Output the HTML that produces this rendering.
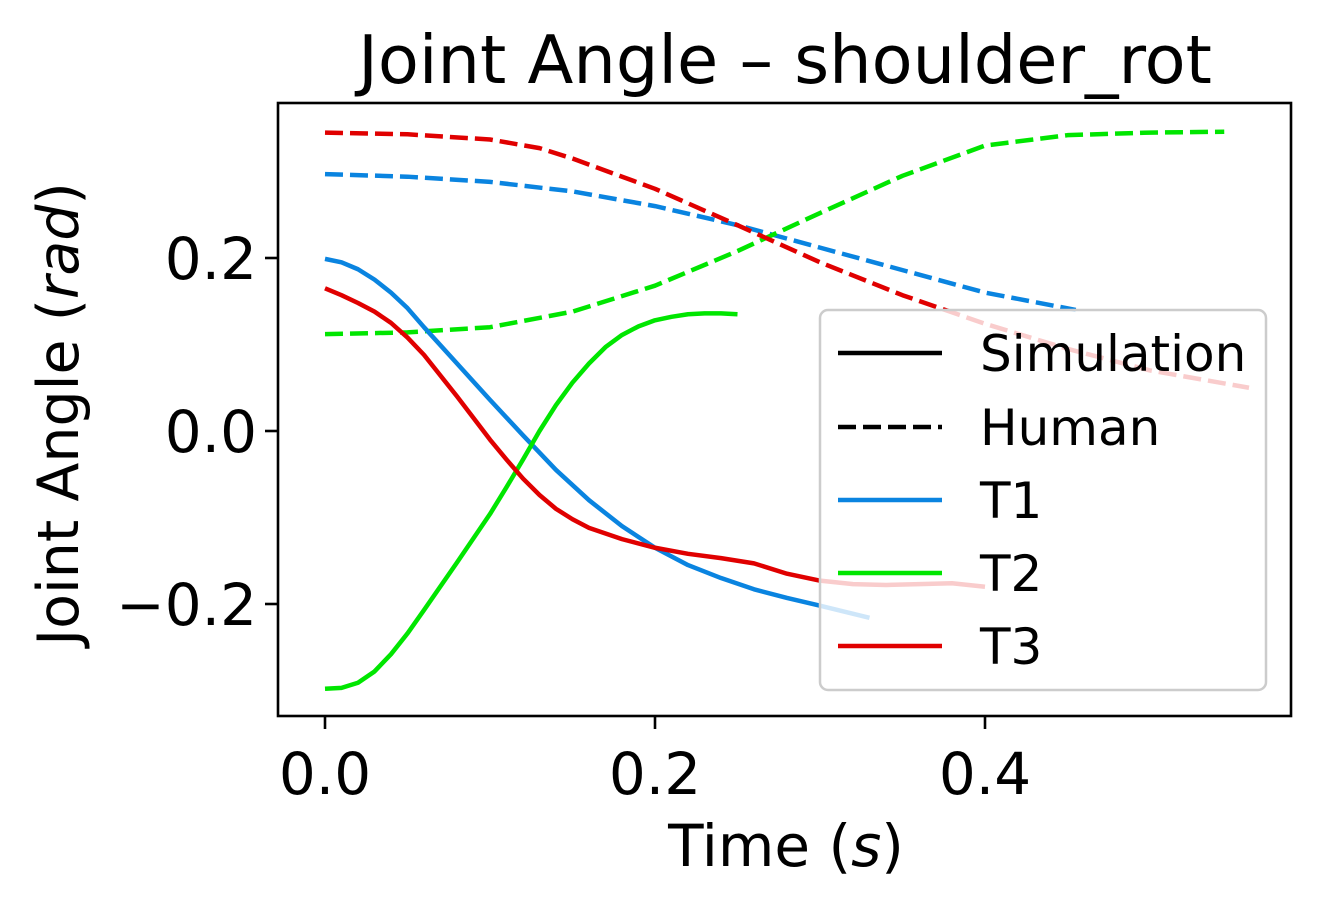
<!DOCTYPE html>
<html><head><meta charset="utf-8"><style>
body{margin:0;background:#fff;}
svg{display:block;font-family:"DejaVu Sans","Liberation Sans",sans-serif;}
</style></head><body>
<svg id="chart" width="1320" height="906" viewBox="0 0 1320 906">
<text x="785" y="83" font-size="67" text-anchor="middle">Joint Angle – shoulder_rot</text>
<g id="series"></g>
<g id="axes"></g>
<rect x="278" y="103" width="1013" height="613" fill="none" stroke="#000" stroke-width="2.6"/>
<text x="786" y="866" font-size="58" text-anchor="middle">Time (<tspan font-style="italic">s</tspan>)</text>
<text transform="translate(78,414) rotate(-90)" font-size="57" text-anchor="middle">Joint Angle (<tspan font-style="italic">rad</tspan>)</text>
<g>
<rect x="820" y="310" width="446" height="380" rx="8" fill="#fff" fill-opacity="0.8" stroke="#ccc" stroke-width="2.5"/>
<g><line x1="838" y1="353" x2="942" y2="353" stroke="#000" stroke-width="4.5"/><text x="980" y="371" font-size="50">Simulation</text></g>
<g><line x1="838" y1="427" x2="942" y2="427" stroke="#000" stroke-width="4.5" stroke-dasharray="18,7"/><text x="980" y="445" font-size="50">Human</text></g>
<g><line x1="838" y1="500" x2="942" y2="500" stroke="#0a84e0" stroke-width="4.5"/><text x="980" y="518" font-size="50">T1</text></g>
<g><line x1="838" y1="573" x2="942" y2="573" stroke="#00e600" stroke-width="4.5"/><text x="980" y="591" font-size="50">T2</text></g>
<g><line x1="838" y1="646" x2="942" y2="646" stroke="#e00000" stroke-width="4.5"/><text x="980" y="664" font-size="50">T3</text></g>
</g>
</svg>
<script>
const xTicks=[0.0,0.2,0.4];
const xTickLabels=["0.0","0.2","0.4"];
const yTicks=[-0.2,0.0,0.2];
const yTickLabels=["\u22120.2","0.0","0.2"];
const t1SimT=[0,0.01,0.02,0.03,0.04,0.05,0.06,0.08,0.1,0.12,0.14,0.16,0.18,0.2,0.22,0.24,0.26,0.28,0.3,0.33];
const t1SimV=[0.199,0.195,0.187,0.175,0.16,0.142,0.12,0.078,0.036,-0.005,-0.045,-0.08,-0.11,-0.135,-0.155,-0.17,-0.183,-0.193,-0.202,-0.216];
const t2SimT=[0,0.01,0.02,0.03,0.04,0.05,0.06,0.08,0.1,0.11,0.12,0.13,0.14,0.15,0.16,0.17,0.18,0.19,0.2,0.21,0.22,0.23,0.24,0.25];
const t2SimV=[-0.298,-0.297,-0.291,-0.278,-0.258,-0.234,-0.207,-0.152,-0.096,-0.065,-0.033,0,0.03,0.056,0.078,0.097,0.111,0.121,0.128,0.132,0.135,0.136,0.136,0.135];
const t3SimT=[0,0.01,0.02,0.03,0.04,0.05,0.06,0.07,0.08,0.09,0.1,0.11,0.12,0.13,0.14,0.15,0.16,0.18,0.2,0.22,0.24,0.26,0.28,0.3,0.32,0.34,0.36,0.38,0.4];
const t3SimV=[0.165,0.157,0.148,0.138,0.125,0.108,0.088,0.064,0.04,0.015,-0.01,-0.033,-0.055,-0.074,-0.09,-0.102,-0.112,-0.125,-0.135,-0.142,-0.147,-0.153,-0.165,-0.173,-0.177,-0.178,-0.177,-0.176,-0.18];
const t1HumT=[0,0.05,0.1,0.15,0.2,0.25,0.3,0.35,0.4,0.455];
const t1HumV=[0.297,0.294,0.288,0.277,0.26,0.238,0.212,0.186,0.16,0.14];
const t2HumT=[0,0.05,0.1,0.15,0.2,0.25,0.3,0.35,0.4,0.45,0.5,0.545];
const t2HumV=[0.112,0.114,0.12,0.138,0.168,0.208,0.252,0.295,0.33,0.342,0.345,0.346];
const t3HumT=[0,0.05,0.1,0.13,0.15,0.2,0.25,0.3,0.35,0.4,0.45,0.5,0.56];
const t3HumV=[0.345,0.343,0.337,0.327,0.315,0.28,0.238,0.195,0.157,0.124,0.095,0.07,0.05];

const NS="http://www.w3.org/2000/svg";
function xs(t){return 325+t*1650;}
function ys(v){return 431-v*865;}
const sg=document.getElementById('series');
const ag=document.getElementById('axes');
function line(T,V,color,dashed,name){
  const p=document.createElementNS(NS,'polyline');
  p.setAttribute('points',T.map((t,i)=>xs(t)+','+ys(V[i])).join(' '));
  p.setAttribute('fill','none');p.setAttribute('stroke',color);p.setAttribute('stroke-width','4.5');
  p.setAttribute('stroke-linejoin','round');
  if(dashed)p.setAttribute('stroke-dasharray','18,7');
  
  
  sg.appendChild(p);
}
line(t1HumT,t1HumV,'#0a84e0',true,'t1-human-line');
line(t2HumT,t2HumV,'#00e600',true,'t2-human-line');
line(t3HumT,t3HumV,'#e00000',true,'t3-human-line');
line(t1SimT,t1SimV,'#0a84e0',false,'t1-simulation-line');
line(t2SimT,t2SimV,'#00e600',false,'t2-simulation-line');
line(t3SimT,t3SimV,'#e00000',false,'t3-simulation-line');
xTicks.forEach((t,i)=>{
  const l=document.createElementNS(NS,'line');
  l.setAttribute('x1',xs(t));l.setAttribute('x2',xs(t));l.setAttribute('y1',716);l.setAttribute('y2',729);
  l.setAttribute('stroke','#000');l.setAttribute('stroke-width','2.6');
  
  
  ag.appendChild(l);
  const tx=document.createElementNS(NS,'text');
  tx.setAttribute('x',xs(t));tx.setAttribute('y',794);tx.setAttribute('font-size','58');tx.setAttribute('text-anchor','middle');
  tx.textContent=xTickLabels[i];
  
  
  ag.appendChild(tx);
});
yTicks.forEach((v,i)=>{
  const l=document.createElementNS(NS,'line');
  l.setAttribute('x1',265);l.setAttribute('x2',278);l.setAttribute('y1',ys(v));l.setAttribute('y2',ys(v));
  l.setAttribute('stroke','#000');l.setAttribute('stroke-width','2.6');
  
  
  ag.appendChild(l);
  const tx=document.createElementNS(NS,'text');
  tx.setAttribute('x',257);tx.setAttribute('y',ys(v)+21);tx.setAttribute('font-size','58');tx.setAttribute('text-anchor','end');
  tx.textContent=yTickLabels[i];
  
  
  ag.appendChild(tx);
});
</script>
</body></html>
